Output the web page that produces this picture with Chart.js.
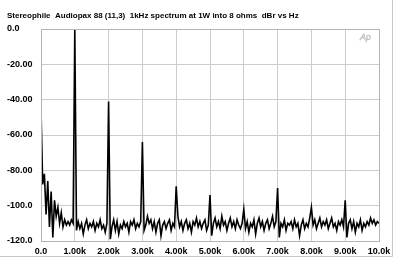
<!DOCTYPE html>
<html>
<head>
<meta charset="utf-8">
<script src="https://cdn.jsdelivr.net/npm/chart.js@4/dist/chart.umd.min.js"></script>
<style>
html,body{margin:0;padding:0;background:#fff;}
#wrap{position:relative;width:400px;height:264px;}
</style>
</head>
<body>
<div id="wrap"><canvas id="c" width="400" height="264"></canvas></div>
<script>
const titleText = "Stereophile  Audiopax 88 (11,3)  1kHz spectrum at 1W into 8 ohms  dBr vs Hz";
const xTickLabels = ["0.0","1.00k","2.00k","3.00k","4.00k","5.00k","6.00k","7.00k","8.00k","9.00k","10.0k"];
const yTickLabels = ["-120.0","-100.0","-80.00","-60.00","-40.00","-20.00","0.0"];
const freqHz = [
0,50,100,150,200,250,300,350,400,450,500,550,600,650,700,750,800,850,900,950,
1000,1050,1100,1150,1200,1250,1300,1350,1400,1450,1500,1550,1600,1650,1700,1750,1800,1850,1900,1950,
2000,2050,2100,2150,2200,2250,2300,2350,2400,2450,2500,2550,2600,2650,2700,2750,2800,2850,2900,2950,
3000,3050,3100,3150,3200,3250,3300,3350,3400,3450,3500,3550,3600,3650,3700,3750,3800,3850,3900,3950,
4000,4050,4100,4150,4200,4250,4300,4350,4400,4450,4500,4550,4600,4650,4700,4750,4800,4850,4900,4950,
5000,5050,5100,5150,5200,5250,5300,5350,5400,5450,5500,5550,5600,5650,5700,5750,5800,5850,5900,5950,
6000,6050,6100,6150,6200,6250,6300,6350,6400,6450,6500,6550,6600,6650,6700,6750,6800,6850,6900,6950,
7000,7050,7100,7150,7200,7250,7300,7350,7400,7450,7500,7550,7600,7650,7700,7750,7800,7850,7900,7950,
8000,8050,8100,8150,8200,8250,8300,8350,8400,8450,8500,8550,8600,8650,8700,8750,8800,8850,8900,8950,
9000,9050,9100,9150,9200,9250,9300,9350,9400,9450,9500,9550,9600,9650,9700,9750,9800,9850,9900,9950,
10000
];
const levelDb = [
-45,-88,-82,-105,-86,-112,-92,-118,-97,-106,-101,-110,-104,-112,-108,-111,-109,-111,-108,-110,
0,-114,-109,-113,-110,-116,-111,-108,-113,-110,-112,-109,-114,-110,-112,-108,-113,-111,-115,-110,
-41,-119,-112,-108,-114,-109,-116,-111,-113,-109,-112,-110,-115,-109,-111,-108,-113,-110,-112,-109,
-64,-114,-111,-106,-110,-108,-113,-109,-115,-110,-108,-117,-111,-109,-113,-110,-108,-114,-110,-112,
-89,-106,-112,-109,-114,-110,-108,-113,-110,-115,-109,-111,-107,-112,-109,-113,-110,-108,-114,-111,
-94,-117,-110,-107,-112,-109,-113,-106,-111,-109,-114,-110,-107,-112,-109,-113,-108,-111,-113,-110,
-102,-113,-109,-115,-110,-112,-108,-116,-110,-107,-112,-109,-114,-110,-108,-113,-110,-106,-112,-109,
-90,-118,-110,-112,-108,-114,-110,-111,-109,-113,-108,-112,-110,-117,-111,-108,-113,-110,-112,-107,
-101,-111,-108,-113,-110,-107,-112,-109,-111,-108,-113,-110,-107,-112,-110,-114,-109,-111,-108,-112,
-97,-118,-110,-108,-113,-109,-115,-110,-112,-108,-114,-110,-112,-109,-111,-107,-110,-108,-111,-109,
-110
];

const overlay = {
  id: 'overlay',
  afterDraw(chart) {
    const ctx = chart.ctx;
    const a = chart.chartArea;
    ctx.save();
    ctx.strokeStyle = '#b4b4b4';
    ctx.lineWidth = 1;
    ctx.strokeRect(Math.round(a.left) + 0.5, Math.round(a.top) + 0.5, Math.round(a.right - a.left), Math.round(a.bottom - a.top));
    ctx.strokeStyle = '#c8c8c8';
    ctx.beginPath();
    ctx.moveTo(392.5, 0); ctx.lineTo(392.5, 256.5); ctx.lineTo(0, 256.5);
    ctx.stroke();
    ctx.fillStyle = '#000';
    ctx.font = 'bold 8px "Liberation Sans", Arial, sans-serif';
    ctx.textBaseline = 'middle';
    ctx.textAlign = 'left';
    ctx.fillText(titleText, 7, 15.5);
    ctx.strokeStyle = '#c0c0c0';
    ctx.lineWidth = 0.6;
    ctx.font = 'italic 9px "Liberation Sans", Arial, sans-serif';
    ctx.strokeText('Ap', 360, 37);
    ctx.restore();
  }
};

new Chart(document.getElementById('c'), {
  type: 'line',
  data: {
    labels: freqHz,
    datasets: [{
      data: levelDb,
      borderColor: '#000',
      borderWidth: 1.6,
      pointRadius: 0,
      tension: 0,
      fill: false
    }]
  },
  options: {
    responsive: false,
    animation: false,
    events: [],
    layout: { padding: { left: 7, right: 21, top: 29, bottom: 0 } },
    plugins: { legend: { display: false }, tooltip: { enabled: false }, title: { display: false } },
    scales: {
      x: {
        type: 'linear', min: 0, max: 10000,
        afterFit(s) { s.height = 23; },
        grid: { color: '#cccccc', lineWidth: 1, drawTicks: false },
        border: { display: false },
        ticks: {
          stepSize: 1000, padding: 5, maxRotation: 0, autoSkip: false,
          color: '#000', font: { family: '"Liberation Sans", Arial, sans-serif', size: 9, weight: 'bold' },
          callback: (v) => xTickLabels[Math.round(v / 1000)]
        }
      },
      y: {
        min: -120, max: 0,
        afterFit(s) { s.width = 34; },
        grid: { color: '#cccccc', lineWidth: 1, drawTicks: false },
        border: { display: false },
        ticks: {
          stepSize: 20, padding: 4, crossAlign: 'far',
          color: '#000', font: { family: '"Liberation Sans", Arial, sans-serif', size: 9, weight: 'bold' },
          callback: (v) => yTickLabels[Math.round((v + 120) / 20)]
        }
      }
    }
  },
  plugins: [overlay]
});
</script>
</body>
</html>
